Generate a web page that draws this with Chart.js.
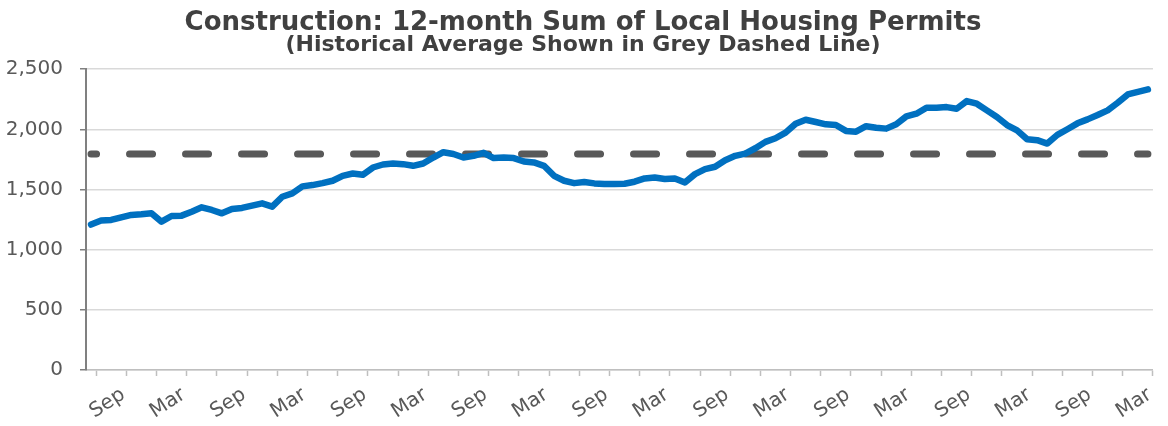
<!DOCTYPE html>
<html>
<head>
<meta charset="utf-8">
<script src="https://cdn.jsdelivr.net/npm/chart.js@4.4.0/dist/chart.umd.min.js"></script>
<style>
  html, body { margin: 0; padding: 0; background: #fff; }
  #wrap { width: 1168px; height: 426px; }
</style>
</head>
<body>
<div id="wrap"><canvas id="permitsChart"></canvas></div>
<script>
// months run Jun (first point) through Mar (last point), 106 monthly points
const monthNames = ["Jan", "Feb", "Mar", "Apr", "May", "Jun", "Jul", "Aug", "Sep", "Oct", "Nov", "Dec"];
const startMonth = 5; // Jun
const pointCount = 106;

const permits = [
  1209, 1242, 1247, 1269, 1289, 1294, 1302, 1233, 1280, 1283,
  1316, 1352, 1330, 1302, 1338, 1347, 1366, 1385, 1358, 1440,
  1468, 1526, 1537, 1553, 1573, 1614, 1633, 1622, 1683, 1708,
  1716, 1711, 1697, 1716, 1766, 1810, 1795, 1766, 1780, 1805,
  1761, 1766, 1761, 1733, 1725, 1697, 1614, 1573, 1553, 1563,
  1551, 1545, 1545, 1548, 1565, 1592, 1600, 1587, 1592, 1559,
  1628, 1670, 1689, 1744, 1780, 1799, 1843, 1896, 1926, 1973,
  2047, 2080, 2061, 2042, 2036, 1987, 1981, 2026, 2014, 2006,
  2042, 2108, 2130, 2180, 2180, 2185, 2171, 2235, 2213, 2158,
  2103, 2036, 1992, 1918, 1910, 1882, 1954, 2001, 2050, 2083,
  2119, 2158, 2221, 2290, 2312, 2332
];

const historicalAverage = 1795;
const yTicks = [0, 500, 1000, 1500, 2000, 2500];

const labels = [];
for (let i = 0; i < pointCount; i++) {
  labels.push(monthNames[(startMonth + i) % 12]);
}

const tickGrey = "#bfbfbf";
const textGrey = "#595959";

const ctx = document.getElementById("permitsChart");

const chart = new Chart(ctx, {
  type: "line",
  data: {
    labels: labels,
    datasets: [
      {
        label: "12-month Sum",
        data: permits,
        borderColor: "#0070C0",
        borderWidth: 6.5,
        pointRadius: 0,
        tension: 0,
        borderJoinStyle: "round",
        borderCapStyle: "round",
        order: 0,
      },
      {
        // flat average line, placed on a hidden linear axis aligned with the months
        label: "Historical Average",
        xAxisID: "xAvg",
        data: [
          { x: 0, y: historicalAverage },
          { x: pointCount - 1, y: historicalAverage },
        ],
        borderColor: "#595959",
        borderWidth: 7,
        borderDash: [23, 33],
        borderDashOffset: 17.5,
        borderCapStyle: "round",
        pointRadius: 0,
        order: 1,
      },
    ],
  },
  options: {
    responsive: true,
    maintainAspectRatio: false,
    animation: false,
    layout: {
      padding: { top: 12, right: 2, left: 0, bottom: 0 },
    },
    plugins: {
      legend: { display: false },
      tooltip: { enabled: false },
      title: {
        display: true,
        text: "Construction: 12-month Sum of Local Housing Permits",
        color: "#404040",
        font: { family: "DejaVu Sans", size: 26, weight: "bold", lineHeight: 0.9 },
        padding: { top: 0, bottom: 0 },
      },
      subtitle: {
        display: true,
        text: "(Historical Average Shown in Grey Dashed Line)",
        color: "#404040",
        font: { family: "DejaVu Sans", size: 22, weight: "bold", lineHeight: 0.9 },
        padding: { top: 0, bottom: 14 },
      },
    },
    scales: {
      x: {
        type: "category",
        offset: true,
        grid: {
          offset: true,
          drawOnChartArea: false,
          drawTicks: true,
          tickLength: 6,
          tickWidth: 1.5,
          color: (c) => (c.type === "scale" || c.index % 3 === 1 ? tickGrey : "rgba(0,0,0,0)"),
          tickColor: (c) => (c.type === "scale" || c.index % 3 === 1 ? tickGrey : "rgba(0,0,0,0)"),
        },
        border: { display: true, color: tickGrey, width: 1.5 },
        ticks: {
          autoSkip: false,
          maxRotation: 33,
          minRotation: 33,
          padding: 7,
          labelOffset: 2,
          color: textGrey,
          font: { family: "DejaVu Sans", size: 20 },
          callback: function (value, index) {
            return index % 6 === 3 ? labels[index] : "";
          },
        },
        afterFit: (scale) => {
          scale.height = 56;
        },
      },
      xAvg: {
        type: "linear",
        display: false,
        min: -0.5,
        max: pointCount - 0.5,
      },
      y: {
        min: yTicks[0],
        max: yTicks[yTicks.length - 1],
        afterBuildTicks: (scale) => {
          scale.ticks = yTicks.map((v) => ({ value: v }));
        },
        grid: {
          color: "#d9d9d9",
          lineWidth: 1.5,
          borderDash: [5, 3],
          drawTicks: true,
          tickLength: 6,
          tickColor: "#808080",
          tickBorderDash: [],
        },
        border: { display: true, color: "#808080", width: 2 },
        ticks: {
          padding: 17,
          color: textGrey,
          font: { family: "DejaVu Sans", size: 20 },
          callback: (v) => v.toLocaleString("en-US"),
        },
        afterFit: (scale) => {
          scale.width = 86;
        },
      },
    },
  },
});
</script>
</body>
</html>
